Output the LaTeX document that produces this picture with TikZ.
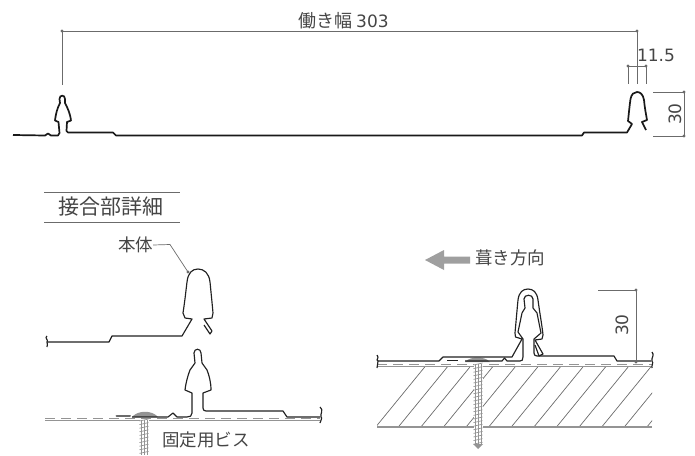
\documentclass[tikz,border=0pt]{standalone}
\usepackage{fontspec}
\setmainfont{Liberation Sans}
\newfontfamily\cjk{Noto Sans CJK JP}
\newfontfamily\digits{DejaVu Sans}
\definecolor{dimc}{gray}{0.42}
\definecolor{inkc}{gray}{0.13}
\definecolor{textc}{gray}{0.27}
\definecolor{screwc}{gray}{0.58}
\tikzset{
 dimline/.style={draw=dimc,line width=0.7pt},
 sheet/.style={draw=inkc,line width=1.15pt,line join=round},
 heavysheet/.style={draw=black!90,line width=1.7pt,line join=round},
 label/.style={inner sep=0,text=textc},
 dot/.style={circle,fill=dimc,inner sep=0,minimum size=3.4pt},
}
\newcommand{\myscrew}[3]{% x, ytop, ybottom
 \pgfmathsetmacro{\ysecond}{#2+3.6}
 \fill[white] (#1-4.5,#2) rectangle (#1+4.5,#3);
 \foreach \yy in {#2,\ysecond,...,#3} \draw[draw=screwc,line width=0.7pt] (#1-4.5,\yy+1) -- (#1+4.5,\yy-1);
 \draw[draw=screwc,line width=0.8pt] (#1-3,#2) -- (#1-3,#3) (#1+3,#2) -- (#1+3,#3) (#1,#2) -- (#1,#3);
}
\begin{document}
\begin{tikzpicture}[x=1pt,y=-1pt]
\useasboundingbox (0,0) rectangle (695,455);
% --- top overall profile
\draw[draw=black,line width=2.6pt] (13,135) -- (20,135);
\draw[heavysheet] (13,135) -- (45,135.5) -- (48,133.5) -- (51,135.5) -- (58,135.5) -- (59.5,133) -- (58.5,122) -- (55,120.5)
 .. controls (56,113) and (57,109) .. (60,103) -- (59.5,99) .. controls (59.5,94.5) and (65,94.5) .. (65,99) -- (65,103)
 .. controls (68,109) and (70,113) .. (71,120.5) -- (67,122) -- (66.5,131) -- (68,132.5) -- (113,132.5) -- (116,135.5) -- (582,135.5) -- (584,132.5) -- (627,132.5) -- (632,124) -- (628,121)
 .. controls (629,112) and (629.5,106) .. (630.5,99) .. controls (631.5,94) and (634,92) .. (637,92) .. controls (640,92) and (643,94) .. (644,100)
 .. controls (645,110) and (646,114) .. (647,120) -- (642,122) -- (646,130);
\coordinate (wl) at (62,31); \coordinate (wr) at (637,31);
\draw[dimline] (wl) -- (wr) (wl) -- (62,85) (wr) -- (637,84);
\node[dot] (wld) at (wl) {}; \node[dot] (wrd) at (wr) {};
\node[label,anchor=west,font=\cjk\fontsize{18}{18}\selectfont] (tw) at (298,20.5) {働き幅\kern4pt{\digits\fontsize{17}{18}\selectfont 303}};
\coordinate (a) at (628,66); \coordinate (b) at (646,66);
\draw[dimline] (a) -- (b) (a) -- (628,84) (b) -- (646,84);
\node[dot] (ad) at (a) {}; \node[dot] (bd) at (b) {};
\node[label,font=\digits\fontsize{17}{17}\selectfont] (t115) at (656,55) {11.5};
\coordinate (c) at (684,92); \coordinate (d) at (684,136);
\draw[dimline] (653,92) -- (c) -- (d) -- (653,136);
\node[dot] (cd) at (c) {}; \node[dot] (dd) at (d) {};
\node[label,rotate=90,font=\digits\fontsize{17}{17}\selectfont] (t30a) at (675,114) {30};
% --- title
\draw[dimline] (44,192) -- (180,192) (44,222) -- (180,222);
\node[label,font=\cjk\fontsize{21}{20}\selectfont] (title) at (110.5,207) {接合部詳細};
% --- upper detail
\node[label,font=\cjk\fontsize{17.5}{16}\selectfont] (hontai) at (135.5,245) {本体};
\coordinate (hp) at (188,272);
\draw[dimline] (hontai.east) -- (170,244.5) -- (hp);
\node[dot] (hpd) at (hp) {};
\draw[sheet] (47,336) .. controls (44,338) and (49,340) .. (47,342) .. controls (49,344) and (46,345) .. (47,347);
\draw[sheet] (47,342) -- (109,342) -- (112,336) -- (182,336) -- (192,319) -- (185,318) -- (183,313)
 .. controls (185,300) and (186,290) .. (187,282) .. controls (188,273) and (192,269) .. (198,269) .. controls (204,269) and (209,273) .. (210,282)
 .. controls (211,292) and (212,302) .. (213,313) -- (212,318) -- (204,319) -- (212,331) -- (210,334) -- (204,325);
% --- lower detail
\draw[draw=screwc,line width=1.2pt,dash pattern=on 10pt off 6pt] (45,418.5) -- (320,418.5);
\draw[draw=screwc,line width=1.1pt] (45,420.5) -- (320,420.5);
\myscrew{144}{420}{455}
\fill[screwc] (132,417) .. controls (138,410) and (152,410) .. (158,417) -- cycle;
\draw[draw=dimc,line width=2pt,line cap=round] (116.5,416) -- (130,416);
\draw[sheet] (132,417) -- (168,417) -- (173,413) -- (177,417) -- (187,417) .. controls (190,417) and (192,416) .. (192,413) -- (192,393) -- (185,390)
 .. controls (186,382) and (188,375) .. (190,370) -- (195,363) -- (194,353) .. controls (194,348) and (201,348) .. (201,353) -- (202,363) -- (207,370)
 .. controls (209,375) and (211,382) .. (211,390) -- (203,393) -- (203,408) .. controls (203,410) and (204,411) .. (206,411) -- (283,411) -- (287,417) -- (320,417);
\draw[sheet] (320,407) .. controls (324,410) and (320,414) .. (321,417) .. controls (323,418) and (320,421) .. (320,423);
% --- arrow
\fill[gray!75] (425,260) -- (444,250) -- (444,256.5) -- (470,256.5) -- (470,263.5) -- (444,263.5) -- (444,270) -- cycle;
\node[label,font=\cjk\fontsize{17.5}{16}\selectfont,anchor=west] (dir) at (475,258) {葺き方向};
\node[label,font=\cjk\fontsize{17.5}{16}\selectfont,anchor=west] (fix) at (162,440) {固定用ビス};
% --- right detail: hatch
\begin{scope}
\clip (377,367) rectangle (652,427);
\foreach \i in {-1,0,...,12} \draw[draw=dimc,line width=0.7pt] (398.3+22.6*\i,427) -- (447.3+22.6*\i,367);
\end{scope}
\draw[draw=screwc,line width=1.2pt,dash pattern=on 10pt off 6pt] (377,364.5) -- (652,364.5);
\draw[draw=screwc,line width=1.1pt] (377,366.5) -- (652,366.5) (377,427) -- (652,427);
\myscrew{478}{364}{444}
\fill[screwc] (473,444) -- (478,449) -- (483,444) -- cycle;
\fill[screwc] (465,362) .. controls (470,356) and (485,356) .. (490,362) -- cycle;
\draw[draw=inkc,line width=0.9pt] (447,360) -- (458,360);
\draw[sheet] (377,355) .. controls (380,358) and (375,360) .. (378,361) .. controls (379,364) and (376,366) .. (377,368);
\draw[sheet] (378,361) -- (439,361) -- (443,357) -- (512,357) -- (522,339) -- (515.5,337) -- (515,333)
 .. controls (516,322) and (517,310) .. (518,300) .. controls (519,292) and (523,289) .. (528,289) .. controls (533,289) and (537,292) .. (538,300)
 .. controls (540,315) and (542,325) .. (543,335) -- (542,339) -- (535,340) -- (543,354) -- (539,356) -- (535,345);
\draw[sheet] (465,361) -- (502,361) -- (504.5,358) -- (507,361) -- (520,361) .. controls (522,361) and (523,360) .. (523,357) -- (523,339) -- (518,332)
 -- (522,313) -- (525,308) -- (524,299) .. controls (524,294) and (533,294) .. (533,299) -- (533,308) -- (537,313) -- (541,333) -- (534,339) -- (534,353)
 .. controls (534,355) and (535,356) .. (537,356) -- (614,356) -- (617,361) -- (651,361);
\draw[sheet] (652,352) .. controls (655,355) and (651,358) .. (652,361) .. controls (654,363) and (651,366) .. (652,368);
\coordinate (e) at (636,290); \coordinate (f) at (636,362);
\draw[dimline] (598,290) -- (e) -- (f);
\node[dot] (ed) at (e) {}; \node[dot] (fd) at (f) {};
\node[label,rotate=90,font=\digits\fontsize{17}{17}\selectfont] (t30b) at (622,325) {30};
\end{tikzpicture}
\end{document}
